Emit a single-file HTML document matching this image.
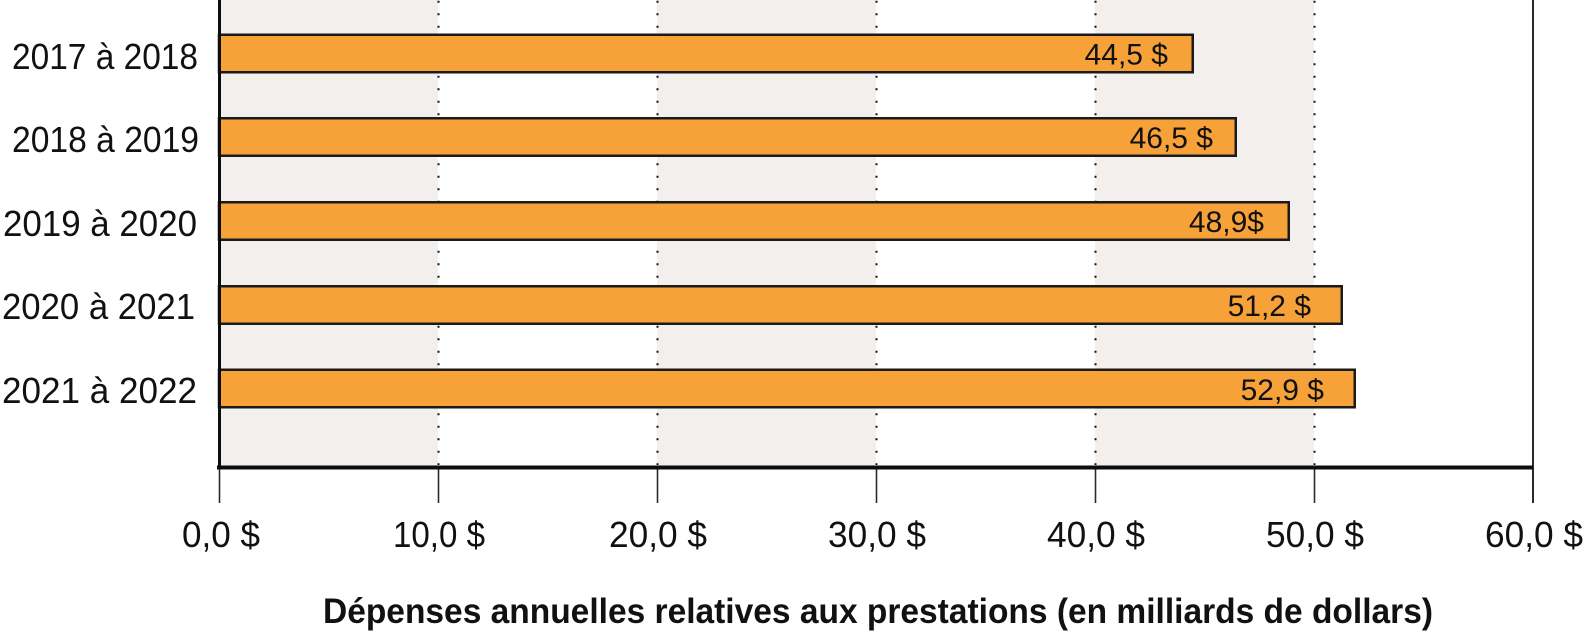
<!DOCTYPE html>
<html>
<head>
<meta charset="utf-8">
<style>
  html, body { margin: 0; padding: 0; background: #ffffff; }
  body { width: 1585px; height: 637px; overflow: hidden; }
  svg { display: block; }
  text { font-family: "Liberation Sans", "DejaVu Sans", sans-serif; fill: #111; }
</style>
</head>
<body>
<svg width="1585" height="637" viewBox="0 0 1585 637" xmlns="http://www.w3.org/2000/svg">
  <!-- background stripes -->
  <rect x="220" y="0" width="218" height="467" fill="#f2efed"/>
  <rect x="657" y="0" width="219" height="467" fill="#f2efed"/>
  <rect x="1095" y="0" width="219" height="467" fill="#f2efed"/>

  <!-- dotted gridlines -->
  <g stroke="#111" stroke-width="2" stroke-dasharray="2 10.5" fill="none">
    <line x1="438.5" y1="0.7" x2="438.5" y2="465"/>
    <line x1="657.5" y1="0.7" x2="657.5" y2="465"/>
    <line x1="876.5" y1="0.7" x2="876.5" y2="465"/>
    <line x1="1095.5" y1="0.7" x2="1095.5" y2="465"/>
    <line x1="1314.5" y1="0.7" x2="1314.5" y2="465"/>
  </g>

  <!-- bars -->
  <g fill="#f7a139" stroke="#1a1a1a" stroke-width="2.5">
    <rect x="219" y="34.75" width="973.75" height="37.5"/>
    <rect x="219" y="118.25" width="1016.75" height="37.5"/>
    <rect x="219" y="202.25" width="1069.75" height="37.5"/>
    <rect x="219" y="286.25" width="1122.75" height="37.5"/>
    <rect x="219" y="369.75" width="1135.75" height="37.5"/>
  </g>

  <!-- value labels -->
  <g font-size="30" text-anchor="end">
    <text x="1168" y="64.5">44,5 $</text>
    <text x="1213" y="148">46,5 $</text>
    <text x="1264" y="232">48,9$</text>
    <text x="1311" y="316">51,2 $</text>
    <text x="1324" y="400">52,9 $</text>
  </g>

  <!-- right axis -->
  <line x1="1533" y1="0" x2="1533" y2="503" stroke="#2a2a2a" stroke-width="2"/>

  <!-- ticks -->
  <g stroke="#2a2a2a" stroke-width="1.6">
    <line x1="219.5" y1="467" x2="219.5" y2="503"/>
    <line x1="438.5" y1="467" x2="438.5" y2="503"/>
    <line x1="657.5" y1="467" x2="657.5" y2="503"/>
    <line x1="876.5" y1="467" x2="876.5" y2="503"/>
    <line x1="1095.5" y1="467" x2="1095.5" y2="503"/>
    <line x1="1314.5" y1="467" x2="1314.5" y2="503"/>
  </g>

  <!-- axes -->
  <line x1="217" y1="467.5" x2="1533" y2="467.5" stroke="#0d0d0d" stroke-width="4"/>
  <line x1="219.5" y1="0" x2="219.5" y2="469.5" stroke="#0d0d0d" stroke-width="3"/>

  <!-- category labels -->
  <g font-size="36" text-anchor="end">
    <text x="198" y="69" textLength="186" lengthAdjust="spacingAndGlyphs">2017 à 2018</text>
    <text x="199" y="152" textLength="187" lengthAdjust="spacingAndGlyphs">2018 à 2019</text>
    <text x="197" y="236" textLength="194" lengthAdjust="spacingAndGlyphs">2019 à 2020</text>
    <text x="195" y="319" textLength="193" lengthAdjust="spacingAndGlyphs">2020 à 2021</text>
    <text x="197" y="403" textLength="195" lengthAdjust="spacingAndGlyphs">2021 à 2022</text>
  </g>

  <!-- tick labels -->
  <g font-size="36" text-anchor="middle">
    <text x="221" y="547" textLength="78" lengthAdjust="spacingAndGlyphs">0,0 $</text>
    <text x="439" y="547" textLength="92" lengthAdjust="spacingAndGlyphs">10,0 $</text>
    <text x="658" y="547" textLength="98" lengthAdjust="spacingAndGlyphs">20,0 $</text>
    <text x="877" y="547" textLength="98" lengthAdjust="spacingAndGlyphs">30,0 $</text>
    <text x="1096" y="547" textLength="98" lengthAdjust="spacingAndGlyphs">40,0 $</text>
    <text x="1315" y="547" textLength="98" lengthAdjust="spacingAndGlyphs">50,0 $</text>
    <text x="1534" y="547" textLength="98" lengthAdjust="spacingAndGlyphs">60,0 $</text>
  </g>

  <!-- axis title -->
  <text x="878" y="623" font-size="35" font-weight="bold" text-anchor="middle" textLength="1110" lengthAdjust="spacingAndGlyphs">Dépenses annuelles relatives aux prestations (en milliards de dollars)</text>
</svg>
</body>
</html>
